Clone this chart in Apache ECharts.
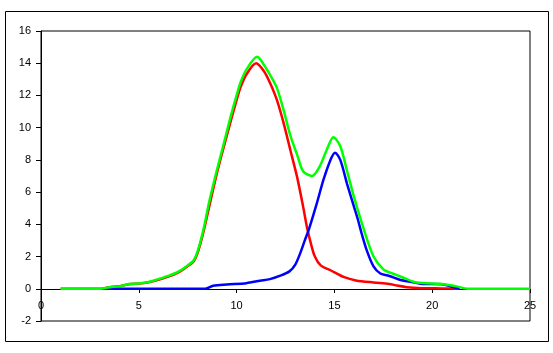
<!DOCTYPE html>
<html>
<head>
<meta charset="utf-8">
<script src="https://cdn.jsdelivr.net/npm/echarts@6/dist/echarts.min.js"></script>
<style>
html,body{margin:0;padding:0;background:#fff;}
#chart{width:553px;height:353px;}
</style>
</head>
<body>
<div id="chart"></div>
<script>
// first peak (red)
var redX = [1, 3, 3.5, 4, 4.5, 5, 5.5, 6, 6.5, 7, 7.5, 7.8, 8.0, 8.3, 8.6, 9.0, 9.3, 9.7, 10.0, 10.2, 10.5, 11.0, 11.4, 11.7, 12.05, 12.4, 12.75, 13.1, 13.4, 13.6, 13.8, 14.0, 14.3, 14.8, 15.5, 16.1, 17.0, 17.8, 18.2, 18.7, 19.5, 20.5, 21.4];
var redY = [0, 0, 0.1, 0.15, 0.28, 0.32, 0.4, 0.55, 0.75, 1.0, 1.4, 1.7, 2.2, 3.5, 5.1, 7.2, 8.6, 10.4, 11.7, 12.5, 13.3, 14.0, 13.5, 12.8, 11.75, 10.3, 8.6, 6.9, 5.1, 3.8, 2.8, 2.0, 1.45, 1.15, 0.72, 0.52, 0.39, 0.3, 0.2, 0.1, 0.04, 0.02, 0];
// second peak (blue)
var blueX = [3.2, 8.4, 8.8, 9.5, 10.5, 11.2, 11.7, 12.2, 12.7, 13.0, 13.25, 13.5, 13.7, 14.1, 14.45, 14.8, 15.03, 15.3, 15.65, 16.0, 16.2, 16.4, 16.65, 17.0, 17.35, 17.85, 18.3, 18.95, 19.5, 20.5, 21.0, 21.4];
var blueY = [0, 0, 0.19, 0.27, 0.35, 0.5, 0.6, 0.8, 1.08, 1.5, 2.2, 3.05, 3.7, 5.3, 6.8, 8.0, 8.45, 8.0, 6.5, 5.1, 4.3, 3.4, 2.4, 1.39, 0.95, 0.78, 0.58, 0.42, 0.3, 0.28, 0.13, 0];
// total (green)
var greenX = [1, 3.0, 3.5, 4, 4.5, 5, 5.5, 6, 6.5, 7, 7.5, 7.8, 8.0, 8.3, 8.6, 9.0, 9.3, 9.7, 10.0, 10.2, 10.5, 11.05, 11.45, 11.7, 12.05, 12.4, 12.75, 13.1, 13.4, 13.85, 14.25, 14.6, 14.95, 15.3, 15.65, 16.0, 16.5, 17.0, 17.5, 17.85, 18.2, 18.7, 19.2, 20.4, 20.6, 21.25, 21.8, 25];
var greenY = [0, 0, 0.1, 0.15, 0.3, 0.33, 0.42, 0.6, 0.8, 1.05, 1.45, 1.75, 2.3, 3.65, 5.4, 7.4, 8.8, 10.7, 12.0, 12.8, 13.6, 14.4, 13.8, 13.3, 12.5, 11.1, 9.5, 8.3, 7.3, 7.0, 7.6, 8.6, 9.4, 8.85, 7.3, 5.7, 3.7, 2.0, 1.2, 1.0, 0.85, 0.6, 0.39, 0.31, 0.28, 0.15, 0, 0];

function pairs(xs, ys){
    var out = [];
    for (var i = 0; i < xs.length; i++) out.push([xs[i], ys[i]]);
    return out;
}

var chart = echarts.init(document.getElementById('chart'));
var font = {fontFamily:'Liberation Sans', fontSize:11, color:'#000'};
var option = {
    backgroundColor:'#fff',
    animation:false,
    graphic:[{
        type:'rect',
        shape:{x:5.5, y:11.5, width:543, height:330},
        style:{fill:'none', stroke:'#000', lineWidth:1},
        silent:true
    }],
    grid:{
        left:41, top:31, right:23, bottom:32,
        show:true, borderColor:'#000', borderWidth:1
    },
    xAxis:{
        type:'value',
        min:0, max:25, interval:5,
        offset:-32,   // sits on y = 0
        axisLine:{onZero:false, lineStyle:{color:'#000', width:1}},
        axisTick:{show:true, length:4, lineStyle:{color:'#000'}},
        axisLabel:Object.assign({margin:11, showMinLabel:true, showMaxLabel:true}, font),
        splitLine:{show:false}
    },
    yAxis:{
        type:'value',
        min:-2, max:16, interval:2,
        axisLine:{show:true, lineStyle:{color:'#000', width:1}},
        axisTick:{show:true, length:5, lineStyle:{color:'#000'}},
        axisLabel:Object.assign({margin:10}, font),
        splitLine:{show:false}
    },
    series:[
        {
            name:'red', type:'line', smooth:0.3, showSymbol:false,
            lineStyle:{color:'#ff0000', width:2.5},
            data:pairs(redX, redY)
        },
        {
            name:'blue', type:'line', smooth:0.3, showSymbol:false,
            lineStyle:{color:'#0000ff', width:2.5},
            data:pairs(blueX, blueY)
        },
        {
            name:'green', type:'line', smooth:0.3, showSymbol:false,
            lineStyle:{color:'#00ff00', width:2.5},
            data:pairs(greenX, greenY)
        }
    ]
};
chart.setOption(option);
window.onresize = chart.resize;
</script>
</body>
</html>
